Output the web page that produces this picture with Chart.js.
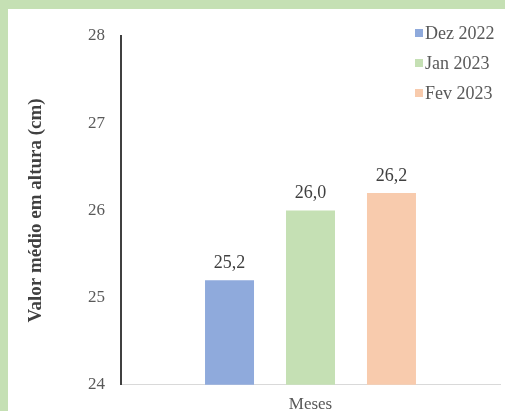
<!DOCTYPE html>
<html>
<head>
<meta charset="utf-8">
<script src="https://cdn.jsdelivr.net/npm/chart.js@4.4.0/dist/chart.umd.min.js"></script>
<style>
  html, body { margin: 0; padding: 0; background: #c5e0b4; }
  #box { position: absolute; left: 8px; top: 9px; width: 497px; height: 402px; background: #fff; }
</style>
</head>
<body>
<div id="box"><canvas id="chart" width="497" height="402"></canvas></div>
<script>
// dados do gráfico
var categorias = ["Meses"];
var meses = ["Dez 2022", "Jan 2023", "Fev 2023"];
var valores = [25.2, 26.0, 26.2];
var cores = ["#8faadc", "#c5e0b4", "#f8cbad"];
var ticksY = [24, 25, 26, 27, 28];

var fonte = "'Liberation Serif', 'Times New Roman', serif";

var datasets = meses.map(function (m, i) {
  return {
    label: m,
    data: [valores[i]],
    backgroundColor: cores[i],
    categoryPercentage: 0.641,
    barPercentage: 0.605
  };
});

// rótulos de valor acima das barras (vírgula decimal)
var rotulos = {
  id: "rotulos",
  afterDatasetsDraw: function (chart) {
    var ctx = chart.ctx;
    ctx.save();
    ctx.font = "18px " + fonte;
    ctx.fillStyle = "#404040";
    ctx.textAlign = "center";
    ctx.textBaseline = "alphabetic";
    chart.data.datasets.forEach(function (ds, i) {
      var bar = chart.getDatasetMeta(i).data[0];
      ctx.fillText(ds.data[0].toFixed(1).replace(".", ","), bar.x, bar.y - 12);
    });
    ctx.restore();
  }
};

// legenda no canto superior direito
var legenda = {
  id: "legenda",
  afterDraw: function (chart) {
    var ctx = chart.ctx;
    ctx.save();
    ctx.font = "18px " + fonte;
    ctx.textBaseline = "middle";
    chart.data.datasets.forEach(function (ds, i) {
      var y = 24 + i * 30;
      ctx.fillStyle = ds.backgroundColor;
      ctx.fillRect(407, y - 4, 8, 8);
      ctx.fillStyle = "#595959";
      ctx.fillText(ds.label, 417, y + 1);
    });
    ctx.restore();
  }
};

var ctx = document.getElementById("chart").getContext("2d");
var chart = new Chart(ctx, {
  type: "bar",
  data: { labels: categorias, datasets: datasets },
  options: {
    responsive: false,
    animation: false,
    layout: { padding: { left: 17, top: 27, right: 5, bottom: 0 } },
    plugins: { legend: { display: false }, tooltip: { enabled: false } },
    scales: {
      x: {
        grid: { display: false, drawTicks: false },
        border: { display: true, color: "#d9d9d9", width: 1 },
        ticks: { color: "#595959", font: { family: fonte, size: 17 }, padding: 10 },
        afterFit: function (s) { s.height = 26; }
      },
      y: {
        min: 24,
        max: 28,
        afterBuildTicks: function (s) { s.ticks = ticksY.map(function (v) { return { value: v }; }); },
        grid: { display: false, drawTicks: false },
        border: { display: true, color: "#404040", width: 2 },
        ticks: { color: "#595959", font: { family: fonte, size: 17 }, padding: 16 },
        title: {
          display: true,
          text: "Valor médio em altura (cm)",
          color: "#404040",
          font: { family: fonte, size: 19, weight: "bold" },
          padding: { top: 0, bottom: 0 }
        },
        afterFit: function (s) { s.width = 96; }
      }
    }
  },
  plugins: [rotulos, legenda]
});
</script>
</body>
</html>
